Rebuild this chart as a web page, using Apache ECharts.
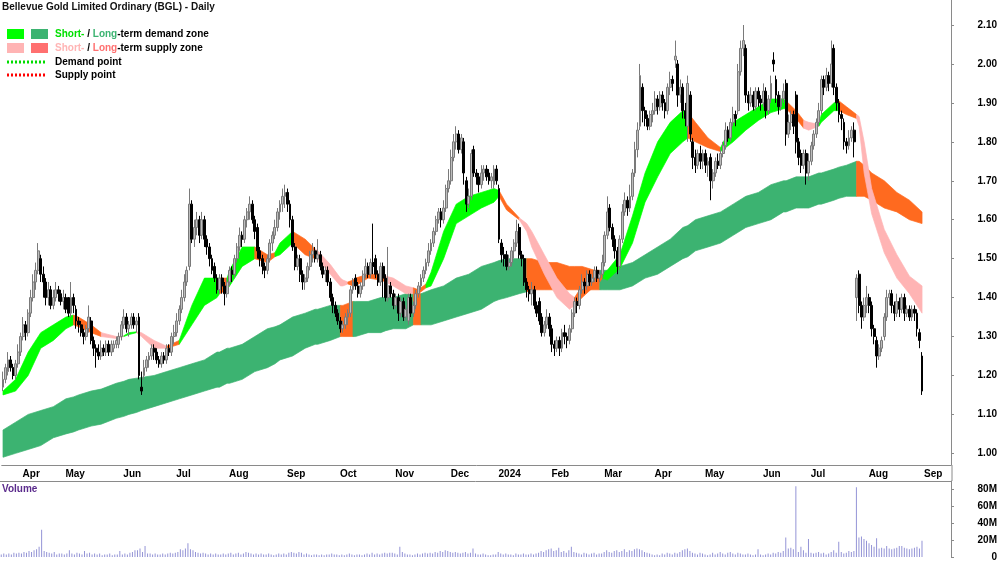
<!DOCTYPE html>
<html>
<head>
<meta charset="utf-8">
<script src="https://cdn.jsdelivr.net/npm/echarts@6/dist/echarts.min.js"></script>
<style>
  html, body { margin: 0; padding: 0; background: #fff; }
  #chart { width: 1000px; height: 562px; }
</style>
</head>
<body>
<div id="chart"></div>
<script>
// ASX trading calendar: first day shown, market holidays, blank days after the last bar
const startDate = '2023-03-23'
const holidays = ['2023-04-07', '2023-04-10', '2023-04-25', '2023-06-12', '2023-12-25', '2023-12-26',
  '2024-01-01', '2024-01-26', '2024-03-29', '2024-04-01', '2024-04-25', '2024-06-10']
const padDays = 11
const monthNames = ['Jan', 'Feb', 'Mar', 'Apr', 'May', 'Jun', 'Jul', 'Aug', 'Sep', 'Oct', 'Nov', 'Dec']

// daily bars [open, close, low, high]
const candles = [
  // Mar 2023
  [1.17,1.19,1.16,1.21],[1.19,1.22,1.18,1.23],[1.21,1.24,1.20,1.26],[1.24,1.22,1.21,1.25],[1.22,1.20,1.19,1.23],
  [1.20,1.23,1.19,1.24],[1.23,1.26,1.22,1.28],
  // Apr
  [1.26,1.30,1.25,1.31],[1.30,1.33,1.29,1.35],[1.33,1.31,1.29,1.34],[1.31,1.36,1.30,1.37],[1.36,1.40,1.35,1.42],
  [1.40,1.44,1.39,1.46],[1.44,1.47,1.42,1.49],[1.47,1.52,1.46,1.54],[1.50,1.46,1.44,1.51],[1.46,1.44,1.40,1.48],
  [1.44,1.40,1.38,1.45],[1.40,1.42,1.38,1.44],[1.42,1.38,1.37,1.43],[1.38,1.40,1.37,1.42],[1.40,1.42,1.39,1.44],
  [1.42,1.41,1.39,1.43],[1.41,1.39,1.38,1.42],
  // May
  [1.39,1.40,1.37,1.42],[1.40,1.37,1.36,1.41],[1.40,1.36,1.35,1.40],[1.36,1.40,1.35,1.44],[1.40,1.38,1.36,1.41],
  [1.37,1.34,1.32,1.38],[1.34,1.33,1.31,1.35],[1.33,1.31,1.30,1.34],[1.31,1.30,1.28,1.32],[1.30,1.32,1.29,1.33],
  [1.32,1.35,1.31,1.38],[1.34,1.29,1.28,1.35],[1.29,1.27,1.25,1.30],[1.27,1.26,1.22,1.28],[1.26,1.25,1.24,1.28],
  [1.25,1.27,1.24,1.29],[1.27,1.26,1.25,1.28],[1.26,1.28,1.25,1.29],[1.28,1.26,1.25,1.29],[1.26,1.28,1.25,1.29],
  [1.27,1.28,1.26,1.29],[1.28,1.29,1.27,1.30],[1.28,1.30,1.27,1.31],
  // Jun
  [1.30,1.33,1.29,1.34],[1.33,1.35,1.32,1.37],[1.35,1.32,1.31,1.36],[1.32,1.33,1.30,1.34],[1.33,1.35,1.32,1.36],
  [1.35,1.33,1.32,1.36],[1.33,1.34,1.31,1.35],[1.35,1.20,1.19,1.36],[1.17,1.16,1.15,1.21],[1.20,1.22,1.19,1.24],
  [1.22,1.24,1.21,1.25],[1.24,1.25,1.22,1.26],[1.25,1.27,1.24,1.28],[1.27,1.26,1.24,1.28],[1.26,1.24,1.23,1.27],
  [1.24,1.23,1.22,1.25],[1.23,1.25,1.22,1.26],[1.25,1.24,1.23,1.26],[1.24,1.27,1.23,1.28],[1.27,1.26,1.25,1.28],
  [1.26,1.30,1.25,1.31],
  // Jul
  [1.30,1.31,1.28,1.33],[1.31,1.34,1.30,1.36],[1.34,1.37,1.33,1.38],[1.37,1.40,1.36,1.42],[1.40,1.44,1.39,1.46],
  [1.44,1.47,1.43,1.48],[1.48,1.64,1.47,1.68],[1.64,1.55,1.54,1.65],[1.55,1.58,1.53,1.60],[1.58,1.60,1.56,1.62],
  [1.60,1.56,1.54,1.61],[1.56,1.60,1.55,1.62],[1.60,1.55,1.53,1.61],[1.55,1.53,1.51,1.56],[1.53,1.50,1.48,1.54],
  [1.50,1.47,1.46,1.51],[1.48,1.45,1.44,1.49],[1.45,1.42,1.41,1.46],[1.42,1.45,1.41,1.46],[1.45,1.43,1.41,1.46],
  [1.43,1.41,1.38,1.44],
  // Aug
  [1.41,1.44,1.40,1.45],[1.44,1.47,1.43,1.48],[1.47,1.46,1.44,1.48],[1.46,1.50,1.45,1.51],[1.50,1.53,1.49,1.54],
  [1.53,1.56,1.52,1.58],[1.56,1.55,1.53,1.57],[1.55,1.60,1.54,1.61],[1.60,1.62,1.58,1.63],[1.62,1.64,1.60,1.66],
  [1.64,1.60,1.59,1.65],[1.60,1.57,1.55,1.61],[1.58,1.52,1.50,1.59],[1.52,1.50,1.48,1.53],[1.50,1.48,1.46,1.51],
  [1.48,1.47,1.45,1.49],[1.47,1.50,1.46,1.51],[1.50,1.54,1.49,1.55],[1.54,1.56,1.52,1.57],[1.56,1.58,1.55,1.60],
  [1.58,1.62,1.57,1.63],[1.62,1.64,1.60,1.65],[1.64,1.66,1.62,1.68],
  // Sep
  [1.66,1.67,1.63,1.69],[1.67,1.64,1.62,1.68],[1.64,1.60,1.58,1.65],[1.60,1.53,1.52,1.61],[1.53,1.48,1.47,1.54],
  [1.48,1.50,1.47,1.51],[1.50,1.46,1.44,1.51],[1.46,1.44,1.42,1.47],[1.44,1.45,1.42,1.46],[1.45,1.48,1.44,1.49],
  [1.48,1.51,1.47,1.52],[1.51,1.52,1.49,1.54],[1.52,1.50,1.49,1.53],[1.50,1.51,1.49,1.55],[1.51,1.48,1.47,1.52],
  [1.48,1.46,1.45,1.49],[1.46,1.47,1.44,1.48],[1.47,1.44,1.43,1.48],[1.44,1.40,1.39,1.45],[1.40,1.38,1.36,1.41],
  [1.38,1.36,1.35,1.39],
  // Oct
  [1.36,1.34,1.33,1.37],[1.34,1.32,1.31,1.35],[1.32,1.33,1.31,1.34],[1.33,1.35,1.32,1.36],[1.35,1.36,1.33,1.37],
  [1.36,1.42,1.35,1.43],[1.42,1.44,1.41,1.45],[1.45,1.43,1.42,1.46],[1.43,1.41,1.40,1.44],[1.41,1.43,1.40,1.44],
  [1.43,1.46,1.42,1.47],[1.46,1.48,1.45,1.50],[1.48,1.46,1.45,1.49],[1.46,1.49,1.45,1.50],[1.49,1.48,1.46,1.59],
  [1.50,1.46,1.45,1.51],[1.46,1.44,1.43,1.47],[1.44,1.48,1.43,1.49],[1.48,1.45,1.40,1.49],[1.45,1.40,1.39,1.46],
  [1.40,1.43,1.39,1.53],[1.43,1.41,1.40,1.44],
  // Nov
  [1.41,1.38,1.37,1.42],[1.38,1.40,1.37,1.41],[1.40,1.36,1.34,1.41],[1.36,1.39,1.35,1.40],[1.39,1.35,1.34,1.40],
  [1.35,1.37,1.34,1.38],[1.34,1.40,1.33,1.41],[1.40,1.36,1.35,1.41],[1.36,1.38,1.35,1.39],[1.38,1.41,1.37,1.42],
  [1.41,1.43,1.40,1.44],[1.43,1.45,1.42,1.46],[1.45,1.47,1.44,1.48],[1.47,1.49,1.46,1.50],[1.49,1.52,1.48,1.54],
  [1.52,1.54,1.51,1.55],[1.54,1.57,1.53,1.58],[1.57,1.60,1.56,1.61],[1.60,1.62,1.59,1.63],[1.62,1.60,1.58,1.63],
  [1.60,1.63,1.59,1.65],[1.63,1.68,1.62,1.69],
  // Dec
  [1.68,1.70,1.67,1.73],[1.70,1.76,1.69,1.78],[1.76,1.80,1.75,1.82],[1.80,1.82,1.78,1.84],[1.82,1.78,1.77,1.83],
  [1.78,1.81,1.77,1.82],[1.80,1.72,1.69,1.81],[1.70,1.64,1.62,1.71],[1.64,1.66,1.63,1.68],[1.66,1.77,1.65,1.78],
  [1.78,1.72,1.71,1.79],[1.72,1.71,1.69,1.73],[1.71,1.69,1.67,1.72],[1.69,1.72,1.68,1.74],[1.72,1.73,1.70,1.74],
  [1.73,1.71,1.70,1.74],[1.72,1.70,1.69,1.73],[1.70,1.71,1.68,1.72],[1.69,1.73,1.68,1.74],
  // Jan 2024
  [1.73,1.70,1.69,1.74],[1.68,1.55,1.54,1.69],[1.54,1.51,1.49,1.55],[1.51,1.50,1.48,1.53],[1.51,1.48,1.47,1.52],
  [1.48,1.49,1.47,1.51],[1.49,1.52,1.48,1.53],[1.52,1.54,1.50,1.55],[1.54,1.57,1.53,1.60],[1.58,1.51,1.50,1.59],
  [1.51,1.50,1.48,1.52],[1.50,1.44,1.43,1.51],[1.44,1.42,1.40,1.45],[1.42,1.41,1.39,1.43],[1.41,1.42,1.38,1.44],
  [1.42,1.38,1.37,1.43],[1.38,1.36,1.35,1.39],[1.39,1.34,1.33,1.40],[1.35,1.31,1.30,1.36],[1.31,1.33,1.30,1.34],
  [1.33,1.35,1.32,1.37],
  // Feb
  [1.35,1.32,1.30,1.36],[1.32,1.28,1.26,1.33],[1.28,1.27,1.25,1.29],[1.27,1.29,1.26,1.30],[1.29,1.27,1.25,1.30],
  [1.27,1.31,1.26,1.32],[1.31,1.30,1.28,1.33],[1.30,1.29,1.27,1.31],[1.29,1.32,1.28,1.33],[1.32,1.36,1.31,1.37],
  [1.36,1.39,1.35,1.40],[1.39,1.38,1.36,1.40],[1.38,1.42,1.37,1.43],[1.42,1.44,1.41,1.46],[1.44,1.43,1.41,1.45],
  [1.43,1.46,1.42,1.47],[1.46,1.44,1.43,1.47],[1.44,1.45,1.43,1.46],[1.45,1.47,1.44,1.48],[1.47,1.45,1.44,1.48],
  [1.45,1.46,1.44,1.47],
  // Mar
  [1.46,1.49,1.45,1.51],[1.49,1.56,1.48,1.57],[1.56,1.62,1.55,1.66],[1.63,1.58,1.57,1.64],[1.58,1.55,1.53,1.59],
  [1.55,1.52,1.50,1.56],[1.52,1.48,1.46,1.53],[1.48,1.55,1.47,1.56],[1.55,1.62,1.54,1.64],[1.62,1.65,1.61,1.67],
  [1.65,1.63,1.61,1.66],[1.63,1.66,1.62,1.69],[1.66,1.72,1.65,1.73],[1.72,1.78,1.71,1.80],[1.78,1.83,1.76,1.85],
  [1.84,1.97,1.83,2.00],[1.94,1.88,1.85,1.95],[1.88,1.86,1.84,1.89],[1.86,1.84,1.83,1.87],[1.84,1.87,1.83,1.88],
  // Apr
  [1.87,1.88,1.85,1.90],[1.88,1.91,1.87,1.93],[1.91,1.89,1.87,1.92],[1.89,1.92,1.88,1.93],[1.92,1.90,1.88,1.93],
  [1.90,1.88,1.86,1.91],[1.88,1.94,1.87,1.95],[1.94,1.96,1.92,1.98],[1.96,1.95,1.93,1.97],[2.01,2.02,1.99,2.06],
  [2.00,1.92,1.89,2.01],[1.92,1.94,1.90,1.96],[1.94,1.88,1.86,1.95],[1.88,1.86,1.84,1.90],[1.84,1.95,1.80,1.97],
  [1.92,1.82,1.80,1.93],[1.80,1.76,1.73,1.81],[1.76,1.74,1.72,1.78],[1.74,1.77,1.73,1.78],[1.77,1.75,1.73,1.79],
  // May
  [1.75,1.77,1.73,1.78],[1.77,1.74,1.72,1.78],[1.74,1.75,1.71,1.76],[1.76,1.70,1.65,1.77],[1.70,1.72,1.68,1.73],
  [1.72,1.75,1.71,1.76],[1.75,1.74,1.73,1.77],[1.74,1.77,1.73,1.78],[1.77,1.79,1.76,1.80],[1.79,1.83,1.78,1.85],
  [1.83,1.81,1.80,1.84],[1.81,1.85,1.80,1.86],[1.85,1.87,1.84,1.89],[1.87,1.86,1.84,1.88],[1.88,1.98,1.87,2.00],
  [1.98,2.04,1.97,2.06],[2.04,2.06,2.02,2.10],[2.04,1.92,1.90,2.05],[1.92,1.90,1.88,1.93],[1.90,1.92,1.89,1.94],
  [1.92,1.89,1.88,1.93],[1.89,1.93,1.88,1.94],[1.93,1.91,1.89,1.94],
  // Jun
  [1.91,1.90,1.88,1.92],[1.90,1.93,1.89,1.95],[1.93,1.88,1.86,1.94],[1.88,1.91,1.87,1.92],[1.91,1.95,1.90,1.97],
  [2.01,2.00,1.98,2.03],[1.96,1.92,1.90,1.97],[1.92,1.89,1.87,1.93],[1.89,1.91,1.88,1.92],[1.91,1.93,1.90,1.95],
  [1.95,1.82,1.79,1.96],[1.82,1.85,1.81,1.87],[1.85,1.87,1.83,1.88],[1.87,1.84,1.82,1.88],[1.92,1.80,1.77,1.93],
  [1.80,1.76,1.74,1.81],[1.77,1.74,1.72,1.78],[1.74,1.77,1.73,1.78],[1.77,1.72,1.69,1.78],
  // Jul
  [1.72,1.75,1.70,1.77],[1.75,1.79,1.74,1.80],[1.79,1.82,1.78,1.83],[1.82,1.85,1.81,1.86],[1.85,1.88,1.84,1.90],
  [1.88,1.96,1.87,1.97],[1.96,1.94,1.92,1.97],[1.94,1.97,1.93,1.99],[1.97,1.95,1.93,1.98],[1.95,2.00,1.94,2.06],
  [2.04,1.94,1.92,2.05],[1.94,1.90,1.88,1.95],[1.90,1.87,1.85,1.91],[1.87,1.86,1.83,1.88],[1.85,1.80,1.78,1.86],
  [1.80,1.79,1.77,1.81],[1.79,1.81,1.78,1.83],[1.81,1.83,1.80,1.84],[1.83,1.80,1.76,1.85],[1.40,1.45,1.34,1.46],
  [1.46,1.38,1.36,1.47],[1.38,1.35,1.32,1.39],[1.35,1.38,1.34,1.40],
  // Aug
  [1.38,1.40,1.36,1.43],[1.40,1.38,1.36,1.41],[1.38,1.32,1.30,1.39],[1.32,1.30,1.28,1.33],[1.29,1.25,1.22,1.30],
  [1.25,1.27,1.24,1.28],[1.27,1.29,1.26,1.30],[1.30,1.35,1.29,1.36],[1.35,1.40,1.34,1.42],[1.40,1.41,1.38,1.42],
  [1.41,1.38,1.36,1.42],[1.38,1.36,1.34,1.39],[1.36,1.39,1.35,1.41],[1.39,1.37,1.35,1.40],[1.37,1.40,1.36,1.41],
  [1.40,1.36,1.34,1.41],[1.36,1.37,1.35,1.38],[1.37,1.35,1.34,1.38],[1.35,1.37,1.34,1.38],[1.37,1.36,1.34,1.38],
  [1.36,1.32,1.30,1.37],[1.31,1.29,1.27,1.32],
  // Sep
  [1.25,1.16,1.15,1.26]
]

// daily volume, millions of shares
const volumes = [
  3,4,3,4,3,5,4,
  5,4,6,5,7,6,8,9,12,32,7,6,5,4,6,3,4,
  4,3,4,8,4,3,5,4,3,7,4,5,3,4,3,4,2,3,3,4,2,3,3,
  7,3,4,3,5,6,8,8,10,6,13,4,4,3,4,3,3,4,3,4,5,
  4,5,6,9,8,10,16,9,8,6,5,4,5,4,3,4,3,4,3,3,4,
  3,4,5,3,4,5,3,4,6,5,4,3,4,3,4,3,3,4,3,2,3,4,3,
  4,3,5,6,5,4,6,5,3,4,3,2,3,3,2,3,2,3,3,4,3,
  3,2,3,2,3,4,3,2,3,3,2,3,4,3,5,3,4,3,4,5,4,5,
  5,4,3,12,6,4,3,3,2,3,4,3,4,5,4,5,4,6,5,7,6,8,
  7,6,5,6,5,4,5,6,4,5,10,4,3,3,4,3,2,2,3,
  3,6,4,3,4,3,3,2,4,3,3,4,3,3,4,3,4,5,7,6,8,
  9,10,7,8,11,6,7,5,8,12,6,5,4,3,5,4,3,4,5,3,4,
  4,6,8,6,5,7,8,6,7,9,6,8,7,9,10,9,8,6,5,4,
  3,2,3,2,4,3,5,4,3,5,4,6,8,9,10,7,5,4,3,5,
  4,3,2,3,5,3,4,6,4,3,5,6,4,3,5,4,3,3,4,3,2,3,9,
  3,2,3,4,3,5,4,6,5,7,23,10,11,9,83,6,12,8,5,
  21,5,4,5,6,4,5,3,4,6,8,5,18,6,4,5,7,6,7,82,23,24,21,
  19,16,14,12,22,10,11,10,13,10,9,10,11,13,13,11,10,9,10,11,12,10,
  19
]

// demand / supply zones, read at these bar indices
const bandDays = [
  0, 5, 10, 15, 20, 25, 28, 30, 35, 39,
  45, 48, 50, 53, 55, 60, 65, 70, 75, 80,
  85, 86, 89, 90, 95, 100, 105, 108, 110, 115,
  120, 124, 125, 130, 134, 135, 137, 139, 140, 145,
  150, 152, 155, 160, 163, 165, 166, 168, 170, 175,
  180, 185, 190, 195, 197, 200, 205, 208, 210, 215,
  220, 225, 227, 230, 235, 237, 238, 240, 245, 250,
  255, 260, 265, 270, 272, 275, 280, 285, 290, 295,
  300, 305, 310, 311, 315, 318, 320, 324, 325, 330,
  332, 335, 339, 340, 342, 345, 350, 355, 360, 365
]
const shortLo = [
  1.15, 1.16, 1.20, 1.27, 1.29, 1.32, 1.33, 1.325, 1.31, 1.30,
  1.295, 1.30, 1.305, 1.31, 1.30, 1.27, 1.27, 1.28, 1.33, 1.38,
  1.40, 1.41, 1.42, 1.43, 1.48, 1.50, 1.49, 1.505, 1.51, 1.54,
  1.51, 1.50, 1.50, 1.46, 1.43, 1.43, 1.435, 1.43, 1.43, 1.45,
  1.445, 1.44, 1.43, 1.41, 1.41, 1.41, 1.415, 1.425, 1.43, 1.50,
  1.59, 1.61, 1.63, 1.645, 1.66, 1.625, 1.60, 1.57, 1.53, 1.46,
  1.40, 1.37, 1.38, 1.40, 1.43, 1.44, 1.45, 1.445, 1.475, 1.54,
  1.645, 1.71, 1.77, 1.80, 1.81, 1.80, 1.785, 1.775, 1.80, 1.83,
  1.855, 1.875, 1.885, 1.885, 1.86, 1.835, 1.83, 1.84, 1.85, 1.88,
  1.88, 1.87, 1.86, 1.84, 1.72, 1.615, 1.515, 1.45, 1.41, 1.36
]
const shortHi = [
  1.16, 1.19, 1.26, 1.31, 1.33, 1.35, 1.355, 1.35, 1.33, 1.31,
  1.30, 1.302, 1.31, 1.312, 1.31, 1.29, 1.275, 1.29, 1.38, 1.45,
  1.45, 1.45, 1.45, 1.47, 1.53, 1.53, 1.51, 1.515, 1.54, 1.57,
  1.55, 1.525, 1.52, 1.485, 1.45, 1.445, 1.44, 1.445, 1.45, 1.46,
  1.46, 1.455, 1.45, 1.43, 1.425, 1.42, 1.425, 1.435, 1.465, 1.57,
  1.64, 1.66, 1.67, 1.68, 1.675, 1.64, 1.605, 1.59, 1.57, 1.51,
  1.45, 1.41, 1.40, 1.43, 1.45, 1.455, 1.46, 1.47, 1.51, 1.61,
  1.72, 1.80, 1.85, 1.88, 1.875, 1.85, 1.81, 1.785, 1.85, 1.87,
  1.89, 1.91, 1.91, 1.905, 1.88, 1.855, 1.85, 1.845, 1.87, 1.90,
  1.905, 1.89, 1.87, 1.865, 1.80, 1.68, 1.575, 1.51, 1.455, 1.43
]
const longLo = [
  0.99, 1.00, 1.01, 1.02, 1.04, 1.05, 1.055, 1.06, 1.07, 1.075,
  1.09, 1.095, 1.10, 1.105, 1.11, 1.12, 1.13, 1.14, 1.15, 1.16,
  1.17, 1.17, 1.18, 1.18, 1.19, 1.21, 1.22, 1.23, 1.24, 1.25,
  1.27, 1.28, 1.28, 1.29, 1.30, 1.30, 1.30, 1.30, 1.30, 1.31,
  1.31, 1.315, 1.32, 1.32, 1.33, 1.33, 1.33, 1.33, 1.33, 1.34,
  1.35, 1.36, 1.37, 1.39, 1.395, 1.40, 1.41, 1.415, 1.42, 1.42,
  1.42, 1.42, 1.42, 1.42, 1.42, 1.42, 1.42, 1.42, 1.42, 1.43,
  1.45, 1.46, 1.48, 1.50, 1.505, 1.52, 1.53, 1.54, 1.56, 1.58,
  1.59, 1.60, 1.62, 1.62, 1.63, 1.63, 1.63, 1.64, 1.64, 1.65,
  1.655, 1.66, 1.66, 1.66, 1.66, 1.65, 1.63, 1.62, 1.60, 1.59
]
const longHi = [
  1.06, 1.08, 1.10, 1.11, 1.12, 1.14, 1.145, 1.15, 1.16, 1.165,
  1.18, 1.185, 1.19, 1.193, 1.195, 1.20, 1.21, 1.22, 1.23, 1.24,
  1.26, 1.26, 1.27, 1.27, 1.28, 1.30, 1.32, 1.325, 1.33, 1.35,
  1.36, 1.37, 1.37, 1.38, 1.38, 1.38, 1.385, 1.39, 1.39, 1.39,
  1.40, 1.40, 1.40, 1.41, 1.41, 1.41, 1.41, 1.415, 1.42, 1.43,
  1.45, 1.46, 1.48, 1.49, 1.495, 1.50, 1.50, 1.50, 1.50, 1.49,
  1.49, 1.48, 1.48, 1.48, 1.47, 1.47, 1.47, 1.47, 1.48, 1.49,
  1.51, 1.53, 1.55, 1.58, 1.585, 1.60, 1.61, 1.62, 1.64, 1.66,
  1.67, 1.69, 1.70, 1.70, 1.71, 1.71, 1.71, 1.72, 1.72, 1.73,
  1.735, 1.74, 1.75, 1.75, 1.74, 1.72, 1.70, 1.67, 1.65, 1.62
]
// zone state from each sample to the next: g = demand, o = supply, p = short-term supply
const shortZone = 'ggggggooop' + 'pggpppoggg' + 'gogggooggo' + 'opppppoooo' + 'opppoooggg' +
  'ggggoopppp' + 'ppoooogggg' + 'ggggoooggg' + 'gggooppggg' + 'oopppppppp'
const longZone = 'gggggggggg' + 'gggggggggg' + 'gggggggggg' + 'ggggoooggg' + 'ggggoogggg' +
  'gggggggooo' + 'oooooggggg' + 'gggggggggg' + 'gggggggggg' + 'ggoooooooo'

const shortColors = { g: '#00ff00', o: '#ff6a1f', p: '#ffb4b4' }
const longColors = { g: '#3cb371', o: '#ff6a1f' }
const FONT = "'Liberation Sans', Arial, sans-serif"

// trading-day categories
const dates = []
const d = new Date(startDate + 'T00:00:00Z')
while (dates.length < candles.length + padDays) {
  const s = d.toISOString().slice(0, 10)
  const wd = d.getUTCDay()
  if (wd !== 0 && wd !== 6 && holidays.indexOf(s) < 0) dates.push(s)
  d.setUTCDate(d.getUTCDate() + 1)
}
const monthStart = dates.map((s, i) => i > 0 && s.slice(0, 7) !== dates[i - 1].slice(0, 7))
const monthLabel = dates.map((s, i) => {
  if (!monthStart[i]) return ''
  const m = +s.slice(5, 7) - 1
  return m === 0 ? s.slice(0, 4) : monthNames[m]
})

// one polygon per run of equal zone state
function zoneRuns(zone, colors) {
  const out = []
  const last = bandDays.length - 1
  let s = 0
  for (let i = 1; i <= last; i++) {
    if (i === last || zone[i] !== zone[s]) {
      out.push({ value: [bandDays[s], bandDays[i], s, i], itemStyle: { color: colors[zone[s]] } })
      s = i
    }
  }
  return out
}

function bandRenderer(lo, hi) {
  return function (params, api) {
    const s = api.value(2)
    const e = api.value(3)
    const pts = []
    for (let k = s; k <= e; k++) pts.push(api.coord([bandDays[k], lo[k]]))
    for (let k = e; k >= s; k--) pts.push(api.coord([bandDays[k], hi[k]]))
    const col = api.visual('color')
    return {
      type: 'polygon',
      shape: { points: pts },
      style: { fill: col, stroke: col, lineWidth: 0.7 }
    }
  }
}

const chart = echarts.init(document.getElementById('chart'), null, { renderer: 'canvas' })

const option = {
  animation: false,
  backgroundColor: '#fff',
  textStyle: { fontFamily: FONT },
  grid: [
    { left: 0, right: 48, top: 0, height: 465 },
    { left: 0, right: 48, top: 481, bottom: 0.7 }
  ],
  xAxis: [
    {
      type: 'category', gridIndex: 0, data: dates, boundaryGap: true,
      axisLine: { onZero: false, lineStyle: { color: '#8a8a8a' } },
      axisTick: { alignWithLabel: true, length: 3, interval: (i) => monthStart[i], lineStyle: { color: '#8a8a8a' } },
      axisLabel: {
        interval: 0, formatter: (v, i) => monthLabel[i], align: 'left', margin: 4, padding: [0, 0, 0, 2],
        color: '#000', fontWeight: 'bold', fontSize: 10, fontFamily: FONT
      },
      splitLine: { show: false }
    },
    {
      type: 'category', gridIndex: 1, data: dates, boundaryGap: true, position: 'top',
      axisLine: { onZero: false, lineStyle: { color: '#8a8a8a' } },
      axisTick: { show: false }, axisLabel: { show: false }, splitLine: { show: false }
    }
  ],
  yAxis: [
    {
      type: 'value', gridIndex: 0, position: 'right', min: 0.9701, max: 2.1642,
      splitNumber: 12, minInterval: 0.1, maxInterval: 0.1,
      axisLine: { show: true, lineStyle: { color: '#8a8a8a' } },
      axisTick: { show: true, length: 3, lineStyle: { color: '#8a8a8a' } },
      axisLabel: {
        align: 'right', margin: 46, showMinLabel: false, showMaxLabel: false,
        formatter: (v) => v.toFixed(2), color: '#000', fontWeight: 'bold', fontSize: 10, fontFamily: FONT
      },
      splitLine: { show: false }
    },
    {
      type: 'value', gridIndex: 1, position: 'right', min: 0, max: 89.2, interval: 20,
      axisLine: { show: true, lineStyle: { color: '#8a8a8a' } },
      axisTick: { show: true, length: 3, lineStyle: { color: '#8a8a8a' } },
      axisLabel: {
        align: 'right', margin: 46, showMaxLabel: false,
        formatter: (v) => (v === 0 ? '0' : v + 'M'), color: '#000', fontWeight: 'bold', fontSize: 10, fontFamily: FONT
      },
      splitLine: { show: false }
    }
  ],
  series: [
    {
      name: 'long zone', type: 'custom', xAxisIndex: 0, yAxisIndex: 0, z: 1,
      renderItem: bandRenderer(longLo, longHi), encode: { x: [0, 1] },
      data: zoneRuns(longZone, longColors)
    },
    {
      name: 'short zone', type: 'custom', xAxisIndex: 0, yAxisIndex: 0, z: 2,
      renderItem: bandRenderer(shortLo, shortHi), encode: { x: [0, 1] },
      data: zoneRuns(shortZone, shortColors)
    },
    {
      name: 'BGL', type: 'candlestick', xAxisIndex: 0, yAxisIndex: 0, z: 3,
      barWidth: 2.4,
      itemStyle: { color: '#bdbdbd', borderColor: '#7a7a7a', color0: '#000', borderColor0: '#000', borderWidth: 1 },
      data: candles
    },
    {
      name: 'Volume', type: 'bar', xAxisIndex: 1, yAxisIndex: 1,
      barWidth: 1, itemStyle: { color: '#9494d6' },
      data: volumes
    }
  ],
  graphic: [
    { type: 'text', x: 2, y: 7, style: { text: 'Bellevue Gold Limited Ordinary (BGL) - Daily', verticalAlign: 'middle', fill: '#111', font: 'bold 10px ' + FONT } },
    { type: 'rect', shape: { x: 7, y: 29, width: 17, height: 10 }, style: { fill: '#00ff00' } },
    { type: 'rect', shape: { x: 31, y: 29, width: 17, height: 10 }, style: { fill: '#3cb371' } },
    { type: 'rect', shape: { x: 7, y: 43, width: 17, height: 10 }, style: { fill: '#ffb4b4' } },
    { type: 'rect', shape: { x: 31, y: 43, width: 17, height: 10 }, style: { fill: '#ff7070' } },
    {
      type: 'text', x: 55, y: 34,
      style: {
        text: '{sg|Short-} / {lg|Long}-term demand zone', verticalAlign: 'middle', fill: '#000', font: 'bold 10px ' + FONT,
        rich: { sg: { fill: '#00e000', font: 'bold 10px ' + FONT }, lg: { fill: '#3cb371', font: 'bold 10px ' + FONT } }
      }
    },
    {
      type: 'text', x: 55, y: 48,
      style: {
        text: '{sp|Short-} / {lp|Long}-term supply zone', verticalAlign: 'middle', fill: '#000', font: 'bold 10px ' + FONT,
        rich: { sp: { fill: '#ffb4b4', font: 'bold 10px ' + FONT }, lp: { fill: '#ff7070', font: 'bold 10px ' + FONT } }
      }
    },
    { type: 'line', shape: { x1: 7, y1: 62, x2: 47, y2: 62 }, style: { stroke: '#00dd00', lineWidth: 3, lineDash: [2, 2] } },
    { type: 'text', x: 55, y: 62, style: { text: 'Demand point', verticalAlign: 'middle', fill: '#000', font: 'bold 10px ' + FONT } },
    { type: 'line', shape: { x1: 7, y1: 75, x2: 47, y2: 75 }, style: { stroke: '#ff0000', lineWidth: 3, lineDash: [2, 2] } },
    { type: 'text', x: 55, y: 75, style: { text: 'Supply point', verticalAlign: 'middle', fill: '#000', font: 'bold 10px ' + FONT } },
    { type: 'text', x: 2, y: 489, style: { text: 'Volume', verticalAlign: 'middle', fill: '#5b2b8c', font: 'bold 10px ' + FONT } },
    { type: 'line', shape: { x1: 952, y1: 465, x2: 952, y2: 481 }, style: { stroke: '#8a8a8a', lineWidth: 1 } }
  ]
}

chart.setOption(option)
window.addEventListener('resize', () => chart.resize())
</script>
</body>
</html>
